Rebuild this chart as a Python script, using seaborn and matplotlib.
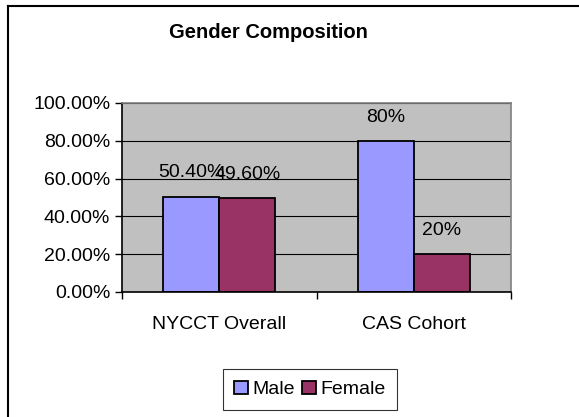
import pandas as pd
import seaborn as sns
import matplotlib.pyplot as plt
import matplotlib.ticker as ticker
from matplotlib.patches import Patch
from matplotlib.lines import Line2D

# data
categories = ['NYCCT Overall', 'CAS Cohort']
groups = ['Male', 'Female']
male = [0.504, 0.80]
female = [0.496, 0.20]
male_labels = ['50.40%', '80%']
female_labels = ['49.60%', '20%']
colors = ['#9999FF', '#993366']

df = pd.DataFrame({
    'category': categories * 2,
    'gender': ['Male'] * len(categories) + ['Female'] * len(categories),
    'share': male + female,
})

plt.rcParams['font.family'] = ['Liberation Sans', 'DejaVu Sans']
plt.rcParams['font.size'] = 14

fig = plt.figure(figsize=(5.79, 4.17), dpi=100)
ax = fig.add_axes([122 / 579, 1 - 292 / 417, (511 - 122) / 579, (292 - 103) / 417])

sns.barplot(data=df, x='category', y='share', hue='gender', hue_order=groups,
            palette=colors, width=0.576, edgecolor='black', linewidth=1.3,
            saturation=1, ax=ax)
ax.get_legend().remove()

# value labels (they overlap in the original too)
for cont, labs in zip(ax.containers, [male_labels, female_labels]):
    ax.bar_label(cont, labels=labs, padding=11, fontsize=14)

ax.set_facecolor('#C0C0C0')
ax.set_ylim(0, 1)
ax.set_xlim(-0.5, 1.5)
ax.yaxis.set_major_locator(ticker.MultipleLocator(0.2))
ax.yaxis.set_major_formatter(ticker.FuncFormatter(lambda v, p: f'{v * 100:.2f}%'))
ax.yaxis.grid(True, color='black', linewidth=0.8)
ax.set_axisbelow(True)

# category boundaries as tick marks, names as minor ticks
ax.set_xticks([-0.5, 0.5, 1.5])
ax.set_xticklabels(['', '', ''])
ax.set_xticks([0, 1], minor=True)
ax.set_xticklabels(categories, minor=True)
ax.tick_params(axis='x', which='minor', length=0, pad=17)
ax.tick_params(axis='both', which='major', length=5, width=1, color='black')
ax.set_xlabel('')
ax.set_ylabel('')

for s in ['left', 'bottom']:
    ax.spines[s].set_color('black')
    ax.spines[s].set_linewidth(1.2)
for s in ['top', 'right']:
    ax.spines[s].set_color('#808080')
    ax.spines[s].set_linewidth(1.2)

fig.text(268 / 579, 1 - 33 / 417, 'Gender Composition', ha='center', va='center',
         fontsize=14.5, fontweight='bold')

handles = [Patch(facecolor=c, edgecolor='black', linewidth=1.3) for c in colors]
leg = fig.legend(handles, groups, loc='center', bbox_to_anchor=(310 / 579, 1 - 389.5 / 417),
                 ncol=2, frameon=True, fancybox=False, edgecolor='black',
                 handlelength=0.7, handleheight=0.7, handletextpad=0.25,
                 columnspacing=0.35, borderpad=0.6, borderaxespad=0, fontsize=14)
leg.get_frame().set_linewidth(0.8)

# outer chart border (top and left visible)
fig.add_artist(Line2D([8 / 579, 1], [1 - 6 / 417, 1 - 6 / 417], color='black', linewidth=1.5))
fig.add_artist(Line2D([8 / 579, 8 / 579], [0, 1 - 6 / 417], color='black', linewidth=1.5))

plt.savefig('out.png', dpi=100)
